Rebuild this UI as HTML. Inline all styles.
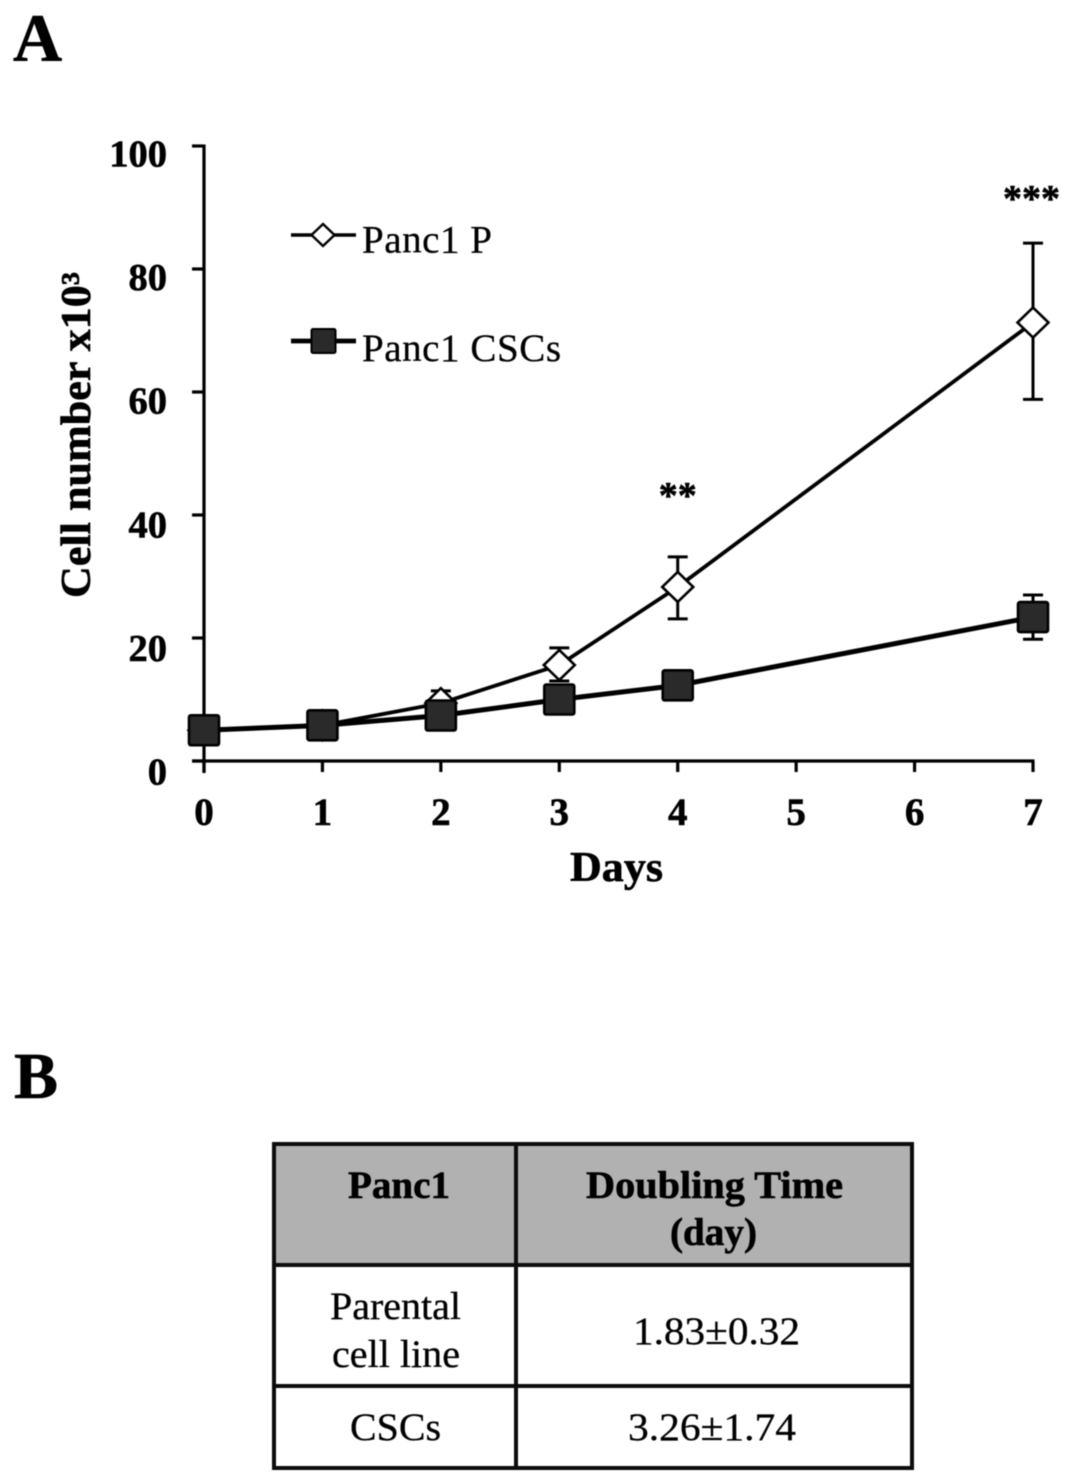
<!DOCTYPE html>
<html>
<head>
<meta charset="utf-8">
<title>Panc1 growth chart and doubling time</title>
<style>
html,body{margin:0;padding:0;background:#fff;}
svg{display:block;}
text{font-family:"Liberation Serif",serif;fill:#000;stroke:#000;stroke-width:0.3px;}
.b{font-weight:bold;stroke-width:0.6px;}
#soft{filter:blur(0.45px);}
</style>
</head>
<body>
<svg id="fig" xmlns="http://www.w3.org/2000/svg" width="1072" height="1483" viewBox="0 0 1072 1483">
<g id="soft">
  <text class="b" x="13" y="61" font-size="68">A</text>
  <text class="b" x="14" y="1098" font-size="66">B</text>

  <g id="chart"></g>

  <g>
    <g>
      <line x1="291" y1="235" x2="356" y2="235" stroke="#000" stroke-width="3.400"/>
      <polygon points="323,224 334.500,235 323,246 311.500,235" fill="#fff" stroke="#000" stroke-width="2.400"/>
      <text x="362" y="252.500" font-size="39" textLength="130" lengthAdjust="spacing">Panc1 P</text>
    </g>
    <g>
      <line x1="291" y1="341" x2="356" y2="341" stroke="#000" stroke-width="4.800"/>
      <rect x="311.500" y="329" width="24" height="24" rx="1.500" fill="#2a2a2a" stroke="#000" stroke-width="2"/>
      <text x="362" y="361" font-size="39" textLength="199" lengthAdjust="spacing">Panc1 CSCs</text>
    </g>
  </g>

  <g>
    <rect x="274" y="1144" width="638" height="121" fill="#b1b1b1"/>
    <rect x="274" y="1144" width="638" height="324" fill="none" stroke="#0c0c0c" stroke-width="4"/>
    <line x1="516" y1="1144" x2="516" y2="1468" stroke="#0c0c0c" stroke-width="4"/>
    <line x1="274" y1="1265" x2="912" y2="1265" stroke="#0c0c0c" stroke-width="4"/>
    <line x1="274" y1="1386" x2="912" y2="1386" stroke="#0c0c0c" stroke-width="4"/>
    <text class="b" x="348" y="1198" font-size="39" textLength="102" lengthAdjust="spacingAndGlyphs">Panc1</text>
    <text class="b" x="586" y="1198" font-size="39" textLength="257" lengthAdjust="spacingAndGlyphs">Doubling Time</text>
    <text class="b" x="670" y="1245" font-size="39" textLength="87" lengthAdjust="spacingAndGlyphs">(day)</text>
    <text x="330" y="1319" font-size="39" textLength="131" lengthAdjust="spacingAndGlyphs">Parental</text>
    <text x="332" y="1367" font-size="39" textLength="128" lengthAdjust="spacingAndGlyphs">cell line</text>
    <text x="633" y="1344" font-size="39" textLength="167" lengthAdjust="spacingAndGlyphs">1.83±0.32</text>
    <text x="350" y="1440" font-size="39" textLength="91" lengthAdjust="spacingAndGlyphs">CSCs</text>
    <text x="628" y="1440" font-size="39" textLength="168" lengthAdjust="spacingAndGlyphs">3.26±1.74</text>
  </g>
</g>
</svg>
<script>
var xTickLabels = [0, 1, 2, 3, 4, 5, 6, 7];
var xTickShown = ["0", "1", "2", "3", "4", "5", "6", "7"];
var yTickValues = [0, 20, 40, 60, 80, 100];
var measuredDays = [0, 1, 2, 3, 4, 7];
var parentalValues = [5, 5.8, 9.4, 15.6, 28.3, 71.3];
var parentalErrUp = [0.5, 0.6, 2, 2.8, 4.9, 12.9];
var parentalErrDown = [0.5, 0.6, 1.8, 2.6, 5.2, 12.5];
var cscValues = [5, 5.8, 7.4, 10, 12.3, 23.4];
var cscErrUp = [0.4, 0.5, 0.7, 1, 1.5, 3.6];
var cscErrDown = [0.4, 0.5, 0.7, 1, 1.5, 3.6];
var significanceDays = [4, 7];
var significanceMarks = ["**", "***"];

function xScale(d) { return 204 + d * 118.43; }
function yScale(v) { return 761 - v * 6.15; }
function yLabelCentre(v) { return 771 - v * 6.18; }

var SVG_NS = 'http://www.w3.org/2000/svg';
var chart = document.getElementById('chart');
function make(tag, attrs, parent) {
  var el = document.createElementNS(SVG_NS, tag);
  for (var k in attrs) { el.setAttribute(k, attrs[k]); }
  (parent || chart).appendChild(el);
  return el;
}

var yAxis = make('line', {x1: xScale(0), y1: yScale(100) - 1.5, x2: xScale(0), y2: 773, stroke: '#000', 'stroke-width': 3.2});


var xAxis = make('line', {x1: 192, y1: yScale(0), x2: xScale(7) + 1.5, y2: yScale(0), stroke: '#000', 'stroke-width': 3.2});



yTickValues.forEach(function (v) {
  var tick = make('line', {x1: 192, y1: yScale(v), x2: xScale(0), y2: yScale(v), stroke: '#000', 'stroke-width': 3.2});
  
  
  var label = make('text', {x: 167, y: yLabelCentre(v) + 13.5, 'text-anchor': 'end', 'font-size': 38.5, 'class': 'b'});
  label.textContent = String(v);
  
  
});

xTickLabels.forEach(function (d, i) {
  var tick = make('line', {x1: xScale(d), y1: yScale(0), x2: xScale(d), y2: 772, stroke: '#000', 'stroke-width': 3.2});
  
  
  var label = make('text', {x: xScale(d), y: 825, 'text-anchor': 'middle', 'font-size': 39, 'class': 'b'});
  label.textContent = xTickShown[i];
  
  
});

var xTitle = make('text', {x: 570, y: 881, 'font-size': 42, 'class': 'b', textLength: 93, lengthAdjust: 'spacingAndGlyphs'});
xTitle.textContent = 'Days';



var yTitle = make('text', {transform: 'translate(90,598) rotate(-90)', 'font-size': 42, 'class': 'b', textLength: 326, lengthAdjust: 'spacingAndGlyphs'});
yTitle.textContent = 'Cell number x10\u00B3';



function linePoints(values) {
  return values.map(function (v, i) { return xScale(measuredDays[i]) + ',' + yScale(v); }).join(' ');
}

function errorBar(day, value, up, down, name) {
  var x = xScale(day);
  var top = yScale(value + up);
  var bottom = yScale(value - down);
  var d = 'M' + x + ' ' + top + 'V' + bottom +
          'M' + (x - 10) + ' ' + top + 'H' + (x + 10) +
          'M' + (x - 10) + ' ' + bottom + 'H' + (x + 10);
  var path = make('path', {d: d, fill: 'none', stroke: '#000', 'stroke-width': 3});
  
  
}

parentalValues.forEach(function (v, i) {
  errorBar(measuredDays[i], v, parentalErrUp[i], parentalErrDown[i], 'error-bar-panc1-p');
});
var parentalLine = make('polyline', {points: linePoints(parentalValues), fill: 'none', stroke: '#000', 'stroke-width': 3.8});


parentalValues.forEach(function (v, i) {
  var cx = xScale(measuredDays[i]);
  var cy = yScale(v);
  var pts = cx + ',' + (cy - 15) + ' ' + (cx + 15.5) + ',' + cy + ' ' + cx + ',' + (cy + 15) + ' ' + (cx - 15.5) + ',' + cy;
  var marker = make('polygon', {points: pts, fill: '#fff', stroke: '#000', 'stroke-width': 2.6});
  
  
});

cscValues.forEach(function (v, i) {
  errorBar(measuredDays[i], v, cscErrUp[i], cscErrDown[i], 'error-bar-panc1-cscs');
});
var cscLine = make('polyline', {points: linePoints(cscValues), fill: 'none', stroke: '#000', 'stroke-width': 5});


cscValues.forEach(function (v, i) {
  var cx = xScale(measuredDays[i]);
  var cy = yScale(v);
  var marker = make('rect', {x: cx - 15, y: cy - 15, width: 30, height: 30, rx: 2, fill: '#2a2a2a', stroke: '#000', 'stroke-width': 2.6});
  
  
});

significanceDays.forEach(function (d, i) {
  var isFirst = i === 0;
  var mark = make('text', {
    x: xScale(d) + (isFirst ? 0 : -1.5),
    y: isFirst ? 508 : 211,
    'text-anchor': 'middle',
    'font-size': 38,
    'class': 'b'
  });
  mark.textContent = significanceMarks[i];
  
  
});
</script>
</body>
</html>
